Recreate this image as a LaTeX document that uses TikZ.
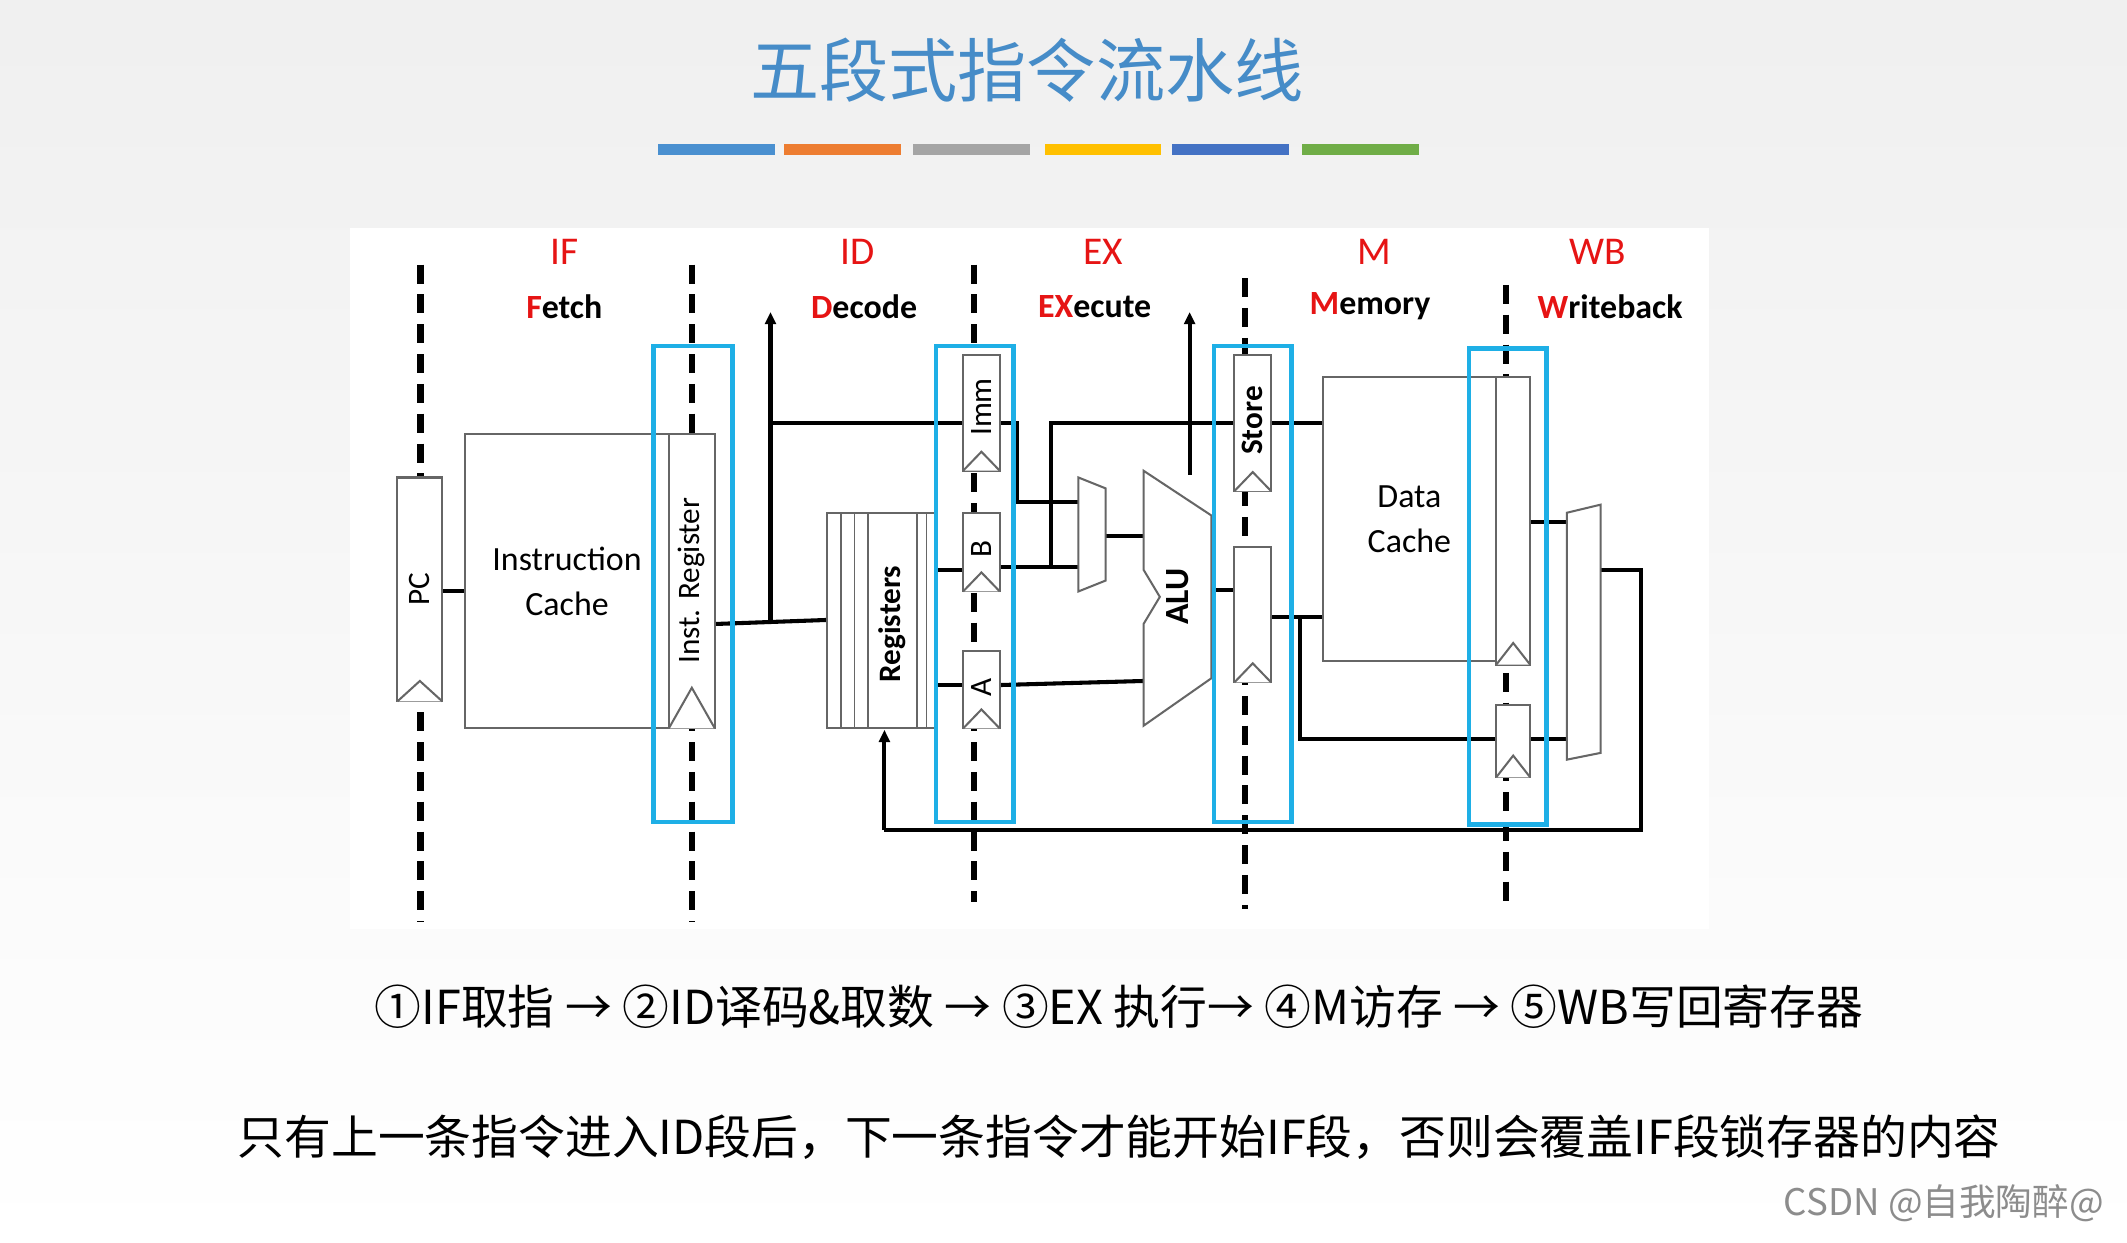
\documentclass[tikz,border=0pt]{standalone}
\usepackage{fontspec}
\setmainfont{Carlito}
\newfontfamily\cjk{Noto Sans CJK SC}
\usetikzlibrary{arrows.meta}
\definecolor{ttl}{RGB}{70,140,200}
\definecolor{cy}{RGB}{30,175,230}
\definecolor{rd}{RGB}{230,20,20}
\definecolor{b1}{RGB}{74,144,208}
\definecolor{b2}{RGB}{237,125,49}
\definecolor{b3}{RGB}{165,165,165}
\definecolor{b4}{RGB}{255,192,0}
\definecolor{b5}{RGB}{68,114,196}
\definecolor{b6}{RGB}{112,173,71}
\begin{document}
\begin{tikzpicture}[x=1pt,y=-1pt,
 ddash/.style={line width=4.5pt,dash pattern=on 14pt off 8pt},
 reg/.style={draw=black!60,line width=1.5pt,fill=white},
 blu/.style={draw=cy,line width=3.5pt},
 w/.style={line width=3pt},
 lab/.style={font=\fontsize{29}{29}\selectfont,text=rd},
 sub/.style={font=\fontsize{25}{25}\selectfont\bfseries},
 rt/.style={rotate=90,font=\fontsize{23}{23}\selectfont}]
\shade[top color=black!6,bottom color=white] (0,0) rectangle (1568,916);
\useasboundingbox (0,0) rectangle (1568,916);
\node[font=\cjk\fontsize{51}{51}\selectfont,text=ttl] (title) at (757,52) {五段式指令流水线};
\foreach \a/\c in {485/b1,578/b2,673/b3,770/b4,864/b5,960/b6}{
 \fill[\c] (\a,106) rectangle ++(86,8);}
\fill[white] (258,168) rectangle (1260,685);
% stage labels
\node[lab] (if) at (416,186) {IF}; \node[lab] (id) at (632,186) {ID};
\node[lab] (ex) at (813,186) {EX}; \node[lab] (m) at (1013,186) {M};
\node[lab] (wb) at (1178,186) {WB};
\node[sub] (f) at (416,226) {\textcolor{rd}{F}etch};
\node[sub] (d) at (637,226) {\textcolor{rd}{D}ecode};
\node[sub] (e) at (807,226) {\textcolor{rd}{EX}ecute};
\node[sub] (me) at (1010,226) {\textcolor{rd}{M}emory};
\node[sub] (wr) at (1187,226) {\textcolor{rd}{W}riteback};
% dashed
\draw[ddash] (310,195)--(310,680); \draw[ddash] (510,195)--(510,680);
\draw[ddash] (718,195)--(718,665); \draw[ddash] (918,205)--(918,670);
\draw[ddash] (1110,210)--(1110,670);
% wires
\draw[w] (326,436)--(343,436);
\draw[w] (527,460)--(610,457);
\draw[w,-{Triangle[length=9pt,width=8pt]}] (568,460)--(568,230);
\draw[w] (568,312)--(710,312);
\draw[w] (690,420)--(710,420); \draw[w] (690,505)--(710,505);
\draw[w] (737,312)--(750,312)--(750,370)--(795,370);
\draw[w] (737,418)--(795,418);
\draw[w] (775,418)--(775,312)--(910,312);
\draw[w] (815,395)--(843,395);
\draw[w] (737,505)--(843,502);
\draw[w] (893,435)--(910,435);
\draw[w,-{Triangle[length=9pt,width=8pt]}] (877,350)--(877,230);
\draw[w] (937,312)--(975,312);
\draw[w] (937,455)--(975,455);
\draw[w] (958,455)--(958,545)--(1103,545);
\draw[w] (1128,385)--(1155,385);
\draw[w] (1128,545)--(1155,545);
\draw[w] (1180,420)--(1210,420)--(1210,612)--(652,612);
\draw[w,-{Triangle[length=9pt,width=8pt]}] (652,612)--(652,538);
% boxes
\node[reg,minimum width=33pt,minimum height=165pt] (pc) at (309.5,434.5) {};
\node[rt] at (pc) {PC};
\draw[reg] (293,517)--(309.5,502)--(326,517);
\node[reg,minimum width=150pt,minimum height=217pt,align=center,font=\fontsize{25}{33}\selectfont] (ic) at (418,428.5) {Instruction\\Cache};
\node[reg,minimum width=34pt,minimum height=217pt] (ir) at (510,428.5) {};
\node[rt] at (510,428) {Inst. Register};
\draw[reg] (493,537)--(510,507)--(527,537);
\node[reg,minimum width=80pt,minimum height=159pt] (rf) at (650,457.5) {};
\foreach \x in {620,630,640,676,683} \draw[black!60,line width=1pt] (\x,378)--(\x,537);
\node[rt,fill=white,inner sep=1pt] at (658,460) {\bfseries Registers};
\node[reg,minimum width=27pt,minimum height=85pt] (imm) at (723.5,304.5) {};
\node[rt] at (723.5,300) {Imm};
\node[reg,minimum width=27pt,minimum height=58pt] (b) at (723.5,407) {};
\node[rt] at (723.5,405) {B};
\node[reg,minimum width=27pt,minimum height=57pt] (a) at (723.5,508.5) {};
\node[rt] at (723.5,507) {A};
\foreach \x/\y in {723.5/347,723.5/436,723.5/537}\draw[reg] (\x-13.5,\y)--(\x,\y-14)--(\x+13.5,\y);
\draw[reg] (795,352)--(815,360)--(815,428)--(795,436)--cycle;
\draw[reg] (843,347)--(893,380)--(893,500)--(843,535)--(843,460)--(855,440)--(843,420)--cycle;
\node[rt,font=\fontsize{25}{25}\selectfont\bfseries] (alu) at (868,440) {ALU};
\node[reg,minimum width=27pt,minimum height=100pt] (st) at (923.5,312) {};
\node[rt] at (923.5,310) {\bfseries Store};
\node[reg,minimum width=27pt,minimum height=100pt] (r2) at (923.5,453) {};
\foreach \y in {362,503}\draw[reg] (910,\y)--(923.5,\y-14)--(937,\y);
\node[reg,minimum width=128pt,minimum height=209pt,align=center,font=\fontsize{25}{33}\selectfont] (dc) at (1039,382.5) {Data\\Cache};
\node[reg,minimum width=25pt,minimum height=212pt] (w1) at (1115.5,384) {};
\node[reg,minimum width=25pt,minimum height=53pt] (w2) at (1115.5,546.5) {};
\foreach \y in {490,573}\draw[reg] (1103,\y)--(1115.5,\y-16)--(1128,\y);
\draw[reg] (1155,378)--(1180,372)--(1180,555)--(1155,560)--cycle;
% blue frames
\draw[blu] (482,255) rectangle (540,606);
\draw[blu] (690,255) rectangle (747,606);
\draw[blu] (895,255) rectangle (952,606);
\draw[blu] (1083,257) rectangle (1140,608);
% texts
\node[font=\cjk\fontsize{34.5}{34.5}\selectfont] (l1) at (825,742) {①IF取指 → ②ID译码\&取数 → ③EX 执行→ ④M访存 → ⑤WB写回寄存器};
\node[font=\cjk\fontsize{34.5}{34.5}\selectfont] (l2) at (825,838) {只有上一条指令进入ID段后，下一条指令才能开始IF段，否则会覆盖IF段锁存器的内容};
\node[font=\cjk\fontsize{27}{27}\selectfont,text=black!45] (csdn) at (1433,887) {CSDN @自我陶醉@};
\end{tikzpicture}
\end{document}
